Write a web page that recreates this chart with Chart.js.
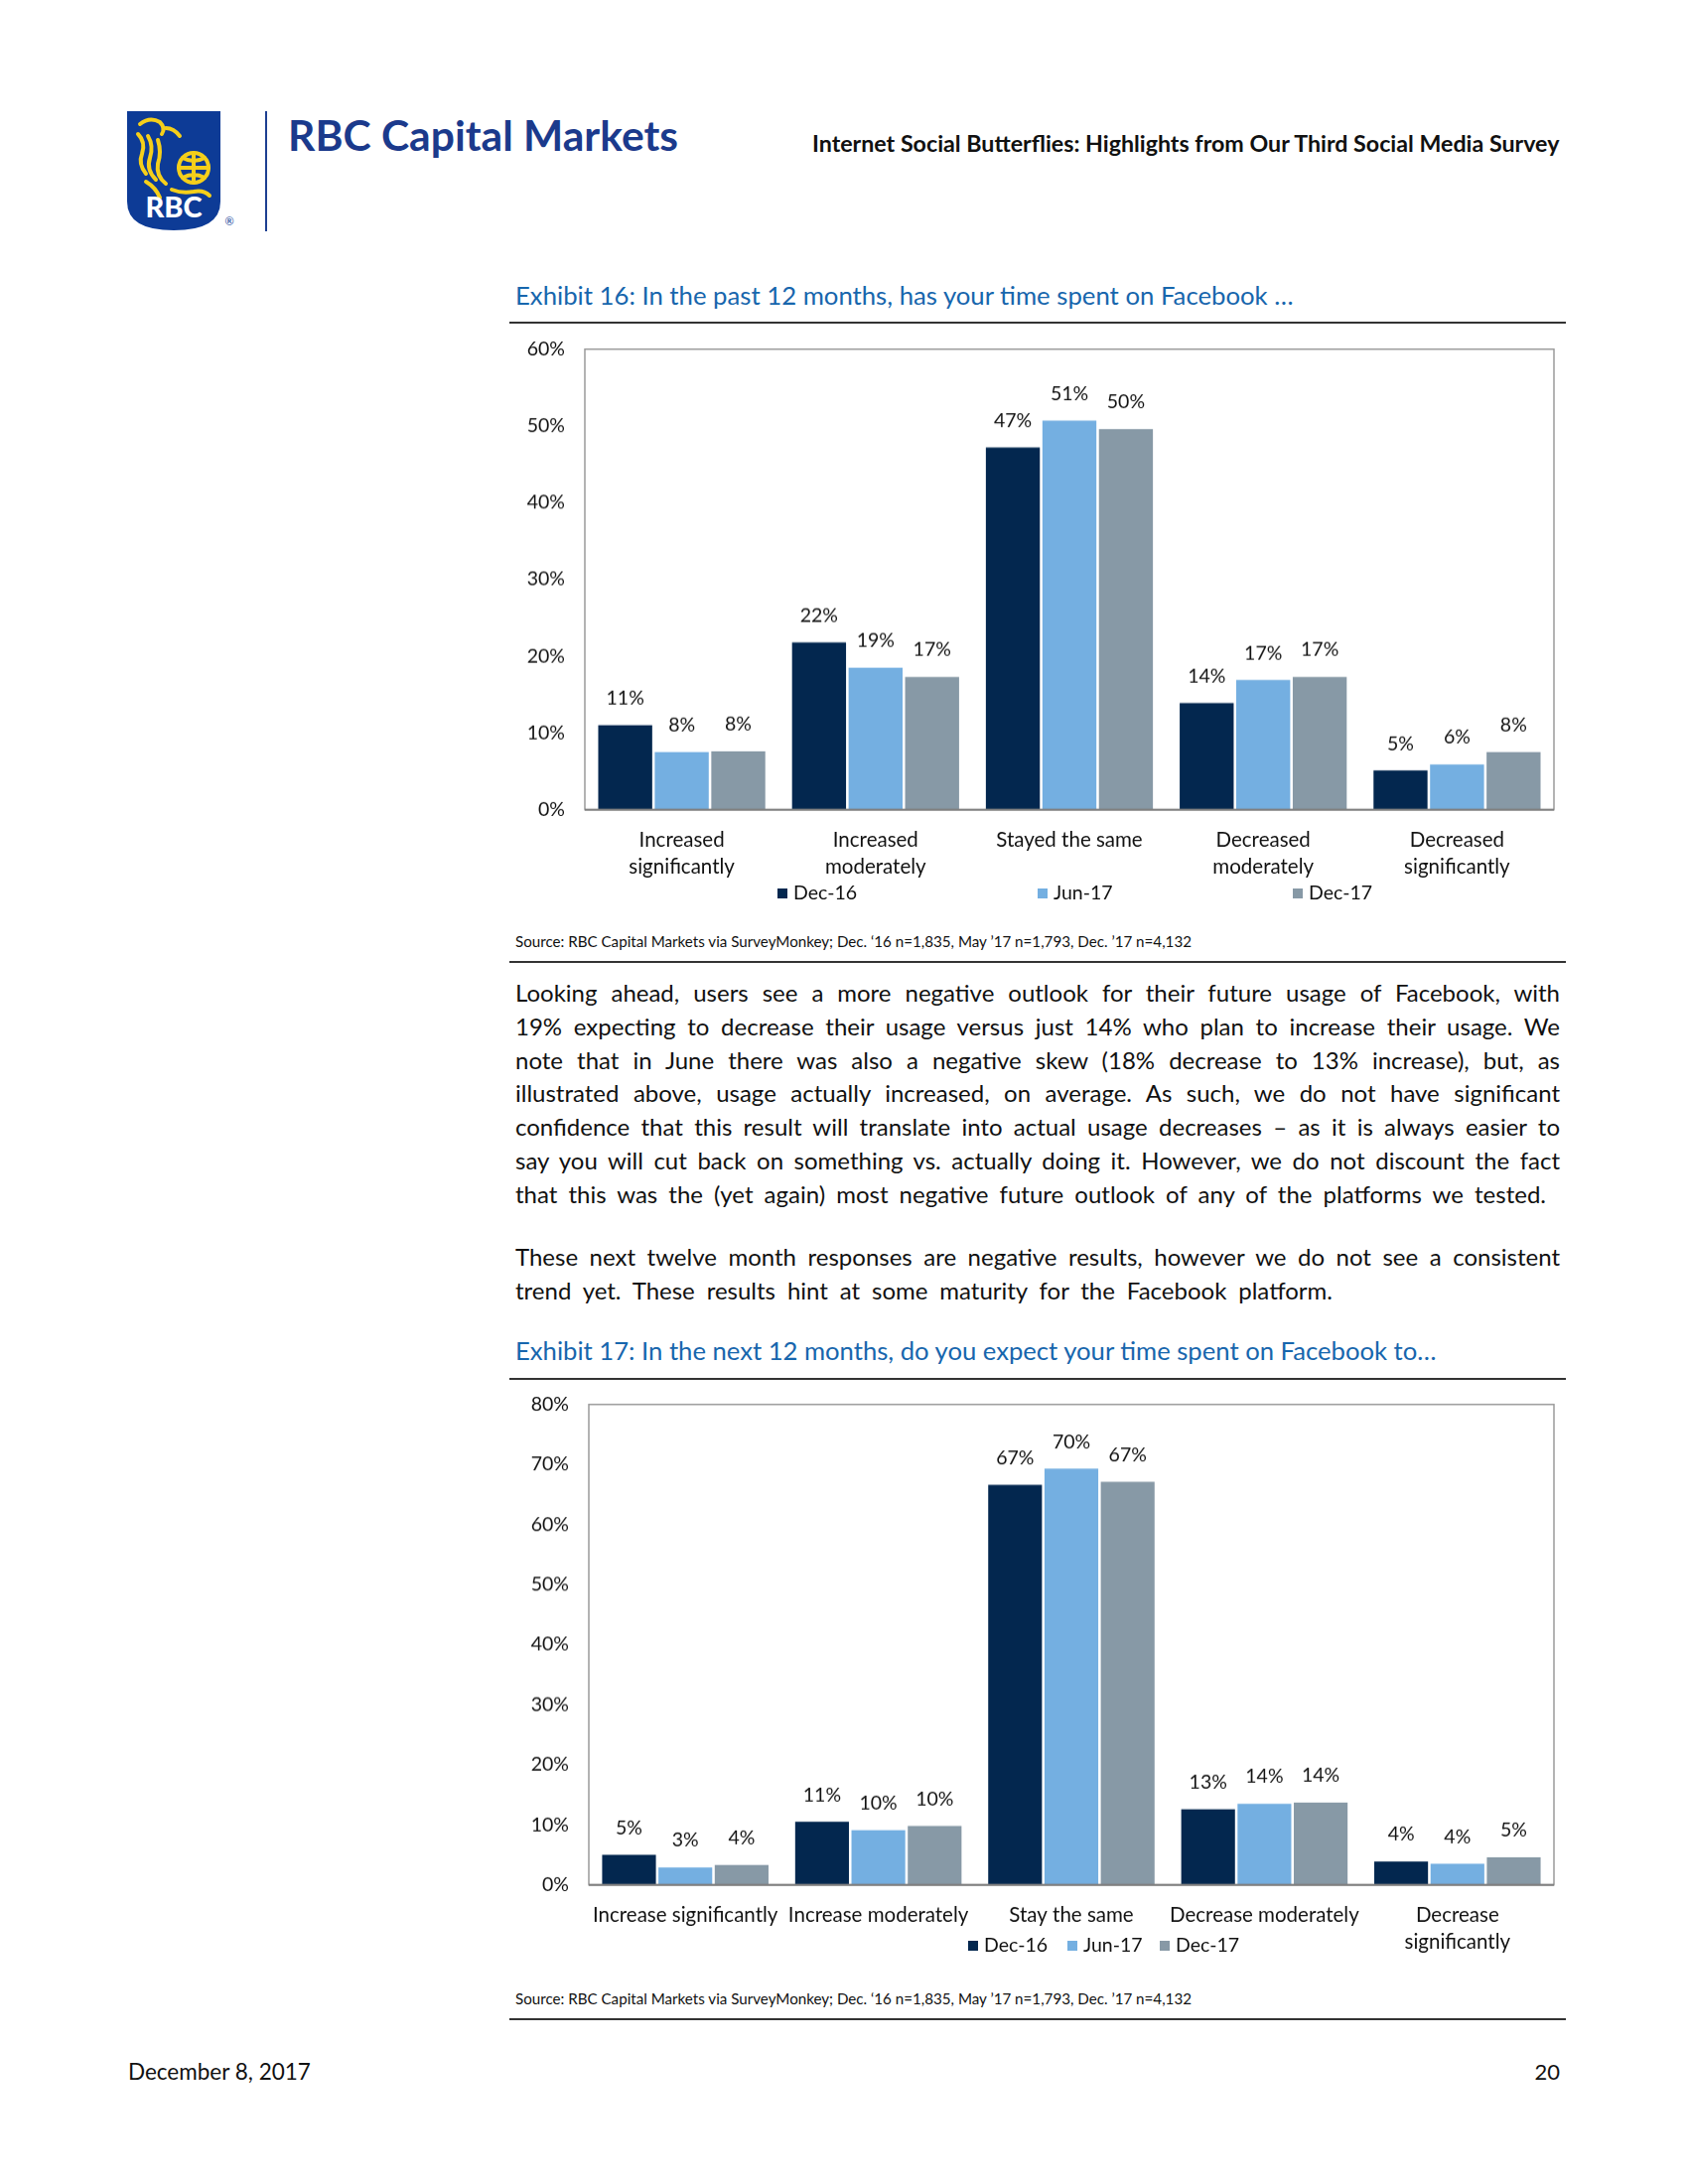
<!DOCTYPE html>
<html><head><meta charset="utf-8">
<script src="https://cdn.jsdelivr.net/npm/chart.js@4.4.1/dist/chart.umd.min.js"></script>
<style>
html,body{margin:0;padding:0;background:#fff;}
body{width:1700px;height:2200px;position:relative;overflow:hidden;font-family:Lato,"Open Sans",sans-serif;color:#111;}
.abs{position:absolute;white-space:nowrap;}
.rule{position:absolute;left:513px;width:1064px;height:2px;background:#333;}
.ttl{color:#1766ad;font-size:22px;line-height:28px;}
.src{font-size:13px;line-height:16px;}
.pline{position:absolute;left:519px;font-size:24px;line-height:34px;white-space:nowrap;}
.legitem{position:absolute;font-size:19.5px;line-height:24px;white-space:nowrap;}
.sq{display:inline-block;width:10px;height:10px;margin-right:6px;vertical-align:1px;}
.box{position:absolute;}
</style></head>
<body>
<svg class="abs" style="left:127px;top:111px" width="112" height="124" viewBox="0 0 112 124">
  <path d="M1,1 H95 V92 Q95,121 48,121 Q1,121 1,92 Z" fill="#0d3b96"/>
  <g fill="none" stroke="#f5cf1a" stroke-width="4" stroke-linecap="round">
    <path d="M14,14 q10,-8 20,-2 q6,6 2,12"/>
    <path d="M12,24 q8,8 4,20 q-4,10 4,20"/>
    <path d="M22,26 q6,10 2,22 q-4,12 6,22"/>
    <path d="M32,30 q4,12 0,24 q-2,12 8,20"/>
    <path d="M20,72 q10,6 14,16"/>
    <path d="M40,18 q8,0 14,8"/>
    <circle cx="68" cy="58" r="15"/>
    <path d="M53,58 H83 M68,43 V73 M57,48 q11,6 22,0 M57,68 q11,-6 22,0"/>
    <path d="M46,80 q10,4 22,2 q10,-2 16,4"/>
  </g>
  <text x="48" y="108" text-anchor="middle" font-family="Lato, sans-serif" font-weight="900" font-size="29" fill="#fff">RBC</text>
  <text x="104" y="116" text-anchor="middle" font-family="Lato, sans-serif" font-size="11" fill="#0d3b96">®</text>
</svg>
<div class="abs" style="left:267px;top:112px;width:2px;height:121px;background:#1d3f91"></div>
<div class="abs fit" data-w="393" data-cy="136" style="left:290px;font-size:42px;font-weight:700;color:#1b3a8c">RBC Capital Markets</div>
<div class="abs fit" data-w="753" data-cy="145" style="left:818px;font-size:21px;font-weight:700;color:#111">Internet Social Butterflies: Highlights from Our Third Social Media Survey</div>

<div class="abs ttl fit" data-w="784" data-cy="297" style="left:519px">Exhibit 16: In the past 12 months, has your time spent on Facebook …</div>
<div class="rule" style="top:324px"></div>
<div class="box" id="box1" style="left:500px;top:330px;width:1083px;height:560px"><canvas id="c1"></canvas></div>
<div id="leg1"></div>
<div class="abs src fit" data-w="682" data-cy="948" style="left:519px">Source: RBC Capital Markets via SurveyMonkey; Dec. ‘16 n=1,835, May ’17 n=1,793, Dec. ’17 n=4,132</div>
<div class="rule" style="top:968px"></div>

<div class="pline just" data-w="1052" style="top:983px">Looking ahead, users see a more negative outlook for their future usage of Facebook, with</div>
<div class="pline just" data-w="1052" style="top:1017px">19% expecting to decrease their usage versus just 14% who plan to increase their usage. We</div>
<div class="pline just" data-w="1052" style="top:1051px">note that in June there was also a negative skew (18% decrease to 13% increase), but, as</div>
<div class="pline just" data-w="1052" style="top:1084px">illustrated above, usage actually increased, on average. As such, we do not have significant</div>
<div class="pline just" data-w="1052" style="top:1118px">confidence that this result will translate into actual usage decreases – as it is always easier to</div>
<div class="pline just" data-w="1052" style="top:1152px">say you will cut back on something vs. actually doing it. However, we do not discount the fact</div>
<div class="pline just" data-w="1038" style="top:1186px">that this was the (yet again) most negative future outlook of any of the platforms we tested.</div>
<div class="pline just" data-w="1052" style="top:1249px">These next twelve month responses are negative results, however we do not see a consistent</div>
<div class="pline just" data-w="823" style="top:1283px">trend yet. These results hint at some maturity for the Facebook platform.</div>

<div class="abs ttl fit" data-w="928" data-cy="1360" style="left:519px">Exhibit 17: In the next 12 months, do you expect your time spent on Facebook to…</div>
<div class="rule" style="top:1388px"></div>
<div class="box" id="box2" style="left:500px;top:1395px;width:1083px;height:578px"><canvas id="c2"></canvas></div>
<div id="leg2"></div>
<div class="abs src fit" data-w="682" data-cy="2013" style="left:519px">Source: RBC Capital Markets via SurveyMonkey; Dec. ‘16 n=1,835, May ’17 n=1,793, Dec. ’17 n=4,132</div>
<div class="rule" style="top:2033px"></div>

<div class="abs fit" data-w="184" data-cy="2087" style="left:129px;font-size:20px">December 8, 2017</div>
<div class="abs" style="right:129px;top:2074px;font-size:22px;line-height:26px">20</div>

<script>
// ---- data ----
const seriesNames = ['Dec-16', 'Jun-17', 'Dec-17'];
const seriesColors = ['#03274f', '#74afe1', '#8799a6'];

const chart1Categories = [['Increased', 'significantly'], ['Increased', 'moderately'], 'Stayed the same', ['Decreased', 'moderately'], ['Decreased', 'significantly']];
const chart1Dec16 = [11.0, 21.8, 47.2, 13.9, 5.1];
const chart1Jun17 = [7.5, 18.5, 50.7, 16.9, 5.9];
const chart1Dec17 = [7.6, 17.3, 49.6, 17.3, 7.5];
const chart1Dec16Labels = [11, 22, 47, 14, 5];
const chart1Jun17Labels = [8, 19, 51, 17, 6];
const chart1Dec17Labels = [8, 17, 50, 17, 8];
const chart1YTicks = [0, 10, 20, 30, 40, 50, 60];

const chart2Categories = ['Increase significantly', 'Increase moderately', 'Stay the same', 'Decrease moderately', ['Decrease', 'significantly']];
const chart2Dec16 = [5.0, 10.5, 66.6, 12.6, 3.9];
const chart2Jun17 = [2.9, 9.1, 69.3, 13.5, 3.5];
const chart2Dec17 = [3.3, 9.8, 67.1, 13.7, 4.6];
const chart2Dec16Labels = [5, 11, 67, 13, 4];
const chart2Jun17Labels = [3, 10, 70, 14, 4];
const chart2Dec17Labels = [4, 10, 67, 14, 5];
const chart2YTicks = [0, 10, 20, 30, 40, 50, 60, 70, 80];

// ---- chart setup ----
Chart.defaults.font.family = 'Lato, "Open Sans", sans-serif';
Chart.defaults.color = '#111';

const framePlugin = {
  id: 'frame',
  afterDatasetsDraw(chart) {
    const { ctx, chartArea: a } = chart;
    ctx.save();
    ctx.strokeStyle = '#9a9a9a';
    ctx.lineWidth = 1.5;
    ctx.strokeRect(a.left, a.top, a.right - a.left, a.bottom - a.top);
    ctx.strokeStyle = '#7d7d7d';
    ctx.lineWidth = 2;
    ctx.beginPath();
    ctx.moveTo(a.left, a.bottom);
    ctx.lineTo(a.right, a.bottom);
    ctx.stroke();
    ctx.restore();
  }
};
const valueLabelPlugin = {
  id: 'valueLabels',
  afterDatasetsDraw(chart) {
    const { ctx } = chart;
    ctx.save();
    ctx.font = '19.5px Lato, "Open Sans", sans-serif';
    ctx.fillStyle = '#111';
    ctx.textAlign = 'center';
    ctx.textBaseline = 'middle';
    chart.data.datasets.forEach((ds, i) => {
      chart.getDatasetMeta(i).data.forEach((el, j) => {
        ctx.fillText(ds.valueLabels[j] + '%', el.x, el.y - 27);
      });
    });
    ctx.restore();
  }
};

function makeChart(id, cats, series, labels, ticks, yWidth) {
  return new Chart(document.getElementById(id), {
    type: 'bar',
    data: {
      labels: cats,
      datasets: series.map((d, i) => ({
        label: seriesNames[i],
        data: d,
        valueLabels: labels[i],
        backgroundColor: seriesColors[i],
        borderWidth: 0,
        categoryPercentage: 0.875,
        barPercentage: 0.955
      }))
    },
    options: {
      responsive: true,
      maintainAspectRatio: false,
      animation: false,
      layout: { padding: { top: 20, right: 18, bottom: 0, left: 0 } },
      plugins: { legend: { display: false }, tooltip: { enabled: false } },
      scales: {
        x: {
          grid: { display: false, drawTicks: false },
          border: { display: false },
          ticks: { autoSkip: false, maxRotation: 0, minRotation: 0, padding: 17, color: '#111',
                   font: { size: 20.5, lineHeight: 1.33 } },
          afterFit: s => { s.height = 75; }
        },
        y: {
          min: ticks[0], max: ticks[ticks.length - 1],
          afterBuildTicks: s => { s.ticks = ticks.map(v => ({ value: v })); },
          grid: { display: false, drawTicks: false },
          border: { display: false },
          ticks: { padding: 20, color: '#111', font: { size: 19.5 }, callback: v => v + '%' },
          afterFit: s => { s.width = yWidth; }
        }
      }
    },
    plugins: [valueLabelPlugin, framePlugin]
  });
}

// place the chart so its plot area lands on the wanted page rows
function alignChart(chart, boxId, wantTop, wantBottom) {
  const box = document.getElementById(boxId);
  const boxTop = parseFloat(box.style.top);
  const boxH = parseFloat(box.style.height);
  const a = chart.chartArea;
  box.style.top = (wantTop - a.top) + 'px';
  box.style.height = (boxH + (wantBottom - wantTop) - (a.bottom - a.top)) + 'px';
  chart.resize();
}

function buildLegend(id, lefts, top) {
  const host = document.getElementById(id);
  seriesNames.forEach((n, i) => {
    const d = document.createElement('div');
    d.className = 'legitem';
    d.style.left = lefts[i] + 'px';
    d.style.top = top + 'px';
    d.innerHTML = '<span class="sq" style="background:' + seriesColors[i] + '"></span>' + n;
    host.appendChild(d);
  });
}

function fitAll() {
  document.querySelectorAll('.fit').forEach(el => {
    const fs = parseFloat(getComputedStyle(el).fontSize);
    const w = el.getBoundingClientRect().width;
    const nfs = fs * (+el.dataset.w) / w;
    el.style.fontSize = nfs + 'px';
    el.style.lineHeight = (nfs * 1.25) + 'px';
    el.style.top = (+el.dataset.cy - nfs * 0.625) + 'px';
  });
  document.querySelectorAll('.just').forEach(el => {
    el.style.wordSpacing = '0px';
    const w = el.getBoundingClientRect().width;
    const n = (el.textContent.match(/ /g) || []).length;
    el.style.wordSpacing = ((+el.dataset.w - w) / n) + 'px';
  });
}

const chart1 = makeChart('c1', chart1Categories, [chart1Dec16, chart1Jun17, chart1Dec17],
  [chart1Dec16Labels, chart1Jun17Labels, chart1Dec17Labels], chart1YTicks, 89);
const chart2 = makeChart('c2', chart2Categories, [chart2Dec16, chart2Jun17, chart2Dec17],
  [chart2Dec16Labels, chart2Jun17Labels, chart2Dec17Labels], chart2YTicks, 93);
alignChart(chart1, 'box1', 352, 815);
alignChart(chart2, 'box2', 1415, 1898);
buildLegend('leg1', [783, 1045, 1302], 887);
buildLegend('leg2', [975, 1075, 1168], 1947);
fitAll();
</script>
</body></html>
